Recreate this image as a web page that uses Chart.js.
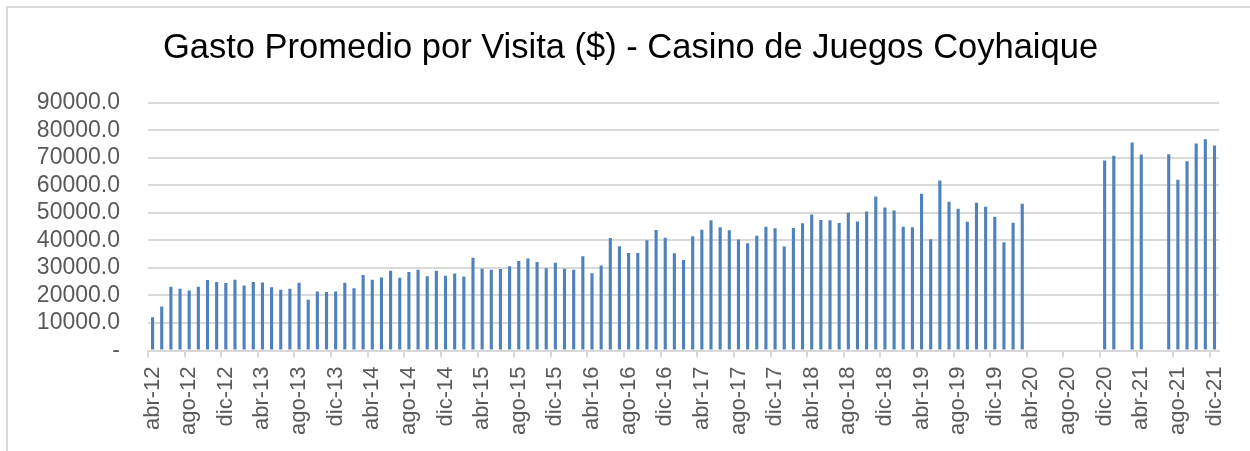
<!DOCTYPE html>
<html>
<head>
<meta charset="utf-8">
<script src="https://cdn.jsdelivr.net/npm/chart.js@4/dist/chart.umd.min.js"></script>
<style>
  html, body { margin: 0; padding: 0; background: #fff; overflow: hidden; }
  #frame { position: absolute; left: 6px; top: 6px; width: 1300px; height: 500px; border: 2px solid #d9d9d9; }
  #chart { position: absolute; left: 0; top: 0; }
</style>
</head>
<body>
<div id="frame"></div>
<canvas id="chart" width="1250" height="451"></canvas>
<script>
// months abr-12 .. dic-21
const months = [
  'abr-12','may-12','jun-12','jul-12','ago-12','sep-12','oct-12','nov-12','dic-12',
  'ene-13','feb-13','mar-13','abr-13','may-13','jun-13','jul-13','ago-13','sep-13','oct-13','nov-13','dic-13',
  'ene-14','feb-14','mar-14','abr-14','may-14','jun-14','jul-14','ago-14','sep-14','oct-14','nov-14','dic-14',
  'ene-15','feb-15','mar-15','abr-15','may-15','jun-15','jul-15','ago-15','sep-15','oct-15','nov-15','dic-15',
  'ene-16','feb-16','mar-16','abr-16','may-16','jun-16','jul-16','ago-16','sep-16','oct-16','nov-16','dic-16',
  'ene-17','feb-17','mar-17','abr-17','may-17','jun-17','jul-17','ago-17','sep-17','oct-17','nov-17','dic-17',
  'ene-18','feb-18','mar-18','abr-18','may-18','jun-18','jul-18','ago-18','sep-18','oct-18','nov-18','dic-18',
  'ene-19','feb-19','mar-19','abr-19','may-19','jun-19','jul-19','ago-19','sep-19','oct-19','nov-19','dic-19',
  'ene-20','feb-20','mar-20','abr-20','may-20','jun-20','jul-20','ago-20','sep-20','oct-20','nov-20','dic-20',
  'ene-21','feb-21','mar-21','abr-21','may-21','jun-21','jul-21','ago-21','sep-21','oct-21','nov-21','dic-21'
];

// gasto promedio por visita ($), null = sin dato (cierre)
const gasto = [
  12100, 16000, 23150, 22400, 21800, 23150, 25600, 24850, 24500,
  25700, 23600, 24850, 24700, 23000, 22050, 22400, 24600, 18400, 21450, 21300, 21450,
  24600, 22650, 27400, 25700, 26500, 28950, 26400, 28500, 29300, 27000, 28950, 27150,
  28000, 26900, 33700, 29700, 29300, 29650, 30600, 32500, 33400, 32200, 29900, 31850,
  29700, 29300, 34250, 28100, 30900, 40900, 37900, 35450, 35450, 40050, 43800, 41000,
  35350, 32900, 41500, 43900, 47300, 44750, 43650, 40300, 38950, 41700, 45000, 44400,
  37750, 44500, 46200, 49450, 47400, 47300, 46300, 50050, 46900, 50500, 56000, 52000,
  50900, 45000, 44750, 56950, 40400, 61800, 54050, 51500, 46800, 53700, 52250, 48600,
  39300, 46450, 53300, null, null, null, null, null, null, null, null, 69050,
  70750, null, 75600, 71200, null, null, 71350, 62050, 68800, 75200, 76800, 74500
];

const yTicks = [0, 10000, 20000, 30000, 40000, 50000, 60000, 70000, 80000, 90000];
const titulo = 'Gasto Promedio por Visita ($) - Casino de Juegos Coyhaique';

const ctx = document.getElementById('chart');
new Chart(ctx, {
  type: 'bar',
  data: {
    labels: months,
    datasets: [{
      label: 'Gasto Promedio',
      data: gasto,
      backgroundColor: '#4f81bd',
      borderWidth: 0,
      barPercentage: 0.34,
      categoryPercentage: 1.0
    }]
  },
  options: {
    responsive: false,
    animation: false,
    layout: { padding: { left: 36, right: 25, top: 0, bottom: 0 } },
    plugins: {
      legend: { display: false },
      tooltip: { enabled: false },
      title: {
        display: true,
        text: titulo,
        color: '#000',
        font: { family: 'Liberation Sans', size: 34.5, weight: 'normal' },
        padding: { top: 27.4, bottom: 34 }
      }
    },
    scales: {
      x: {
        offset: true,
        grid: {
          offset: true,
          drawOnChartArea: false,
          drawTicks: true,
          tickLength: 7,
          lineWidth: 2,
          color: (c) => (c.index % 4 === 0 ? '#d9d9d9' : 'rgba(0,0,0,0)')
        },
        border: { display: true, color: '#d9d9d9', width: 2 },
        ticks: {
          autoSkip: false,
          minRotation: 90,
          maxRotation: 90,
          padding: 9,
          color: '#595959',
          font: { family: 'Liberation Sans', size: 22 },
          callback: function (val, i) { return i % 4 === 0 ? this.getLabelForValue(val) : ''; }
        },
        afterFit: (s) => { s.height = 100.5; }
      },
      y: {
        min: 0,
        max: 90000,
        afterBuildTicks: (s) => { s.ticks = yTicks.map(v => ({ value: v })); },
        grid: { color: '#d9d9d9', lineWidth: 2, drawTicks: false },
        border: { display: false },
        ticks: {
          autoSkip: false,
          padding: 28,
          color: '#595959',
          font: { family: 'Liberation Sans', size: 23 },
          callback: (v) => (v === 0 ? '-' : v.toFixed(1))
        },
        afterFit: (s) => { s.width = 112; }
      }
    }
  }
});
</script>
</body>
</html>
